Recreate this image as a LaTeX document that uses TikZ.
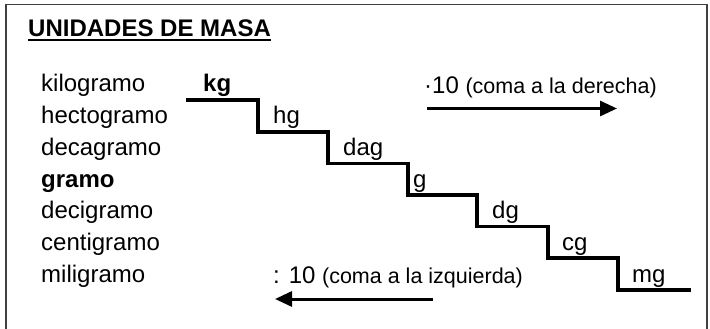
\documentclass[tikz,border=0pt]{standalone}
\usepackage{fontspec}
\setmainfont{Liberation Sans}
\usetikzlibrary{arrows.meta,calc}
\tikzset{
  lbl/.style={anchor=base west,inner sep=0pt,font=\fontsize{24}{28}\selectfont},
  note/.style={anchor=base west,inner sep=0pt,font=\fontsize{24}{28}\selectfont},
  stair/.style={line width=3.5pt,line join=miter,line cap=rect},
  conv/.style={line width=3pt,-{Triangle[length=17pt,width=15pt]}},
  frame/.style={line width=1.6pt,draw=black!75}
}
\begin{document}
\begin{tikzpicture}[x=1pt,y=-1pt]
\useasboundingbox (0,0) rectangle (710,329);
% frame (open at bottom)
\draw[frame] (6,329) -- (6,4.5) -- (707,4.5) -- (707,329);
% title
\node[anchor=base west,inner sep=0pt,font=\fontsize{24}{28}\bfseries] (title) at (28,37) {UNIDADES DE MASA};
\draw[line width=2pt] ($(title.base west)+(0,3.5)$) -- ($(title.base east)+(0,3.5)$);
% unit names
\node[lbl] (kilo)  at (41,92)    {kilogramo};
\node[lbl] (hecto) at (41,123.7) {hectogramo};
\node[lbl] (deca)  at (41,155.4) {decagramo};
\node[lbl,font=\fontsize{24}{28}\bfseries] (gram) at (41,187) {gramo};
\node[lbl] (deci)  at (41,218.8) {decigramo};
\node[lbl] (centi) at (41,250.5) {centigramo};
\node[lbl] (mili)  at (41,282.2) {miligramo};
% symbols
\node[lbl,font=\fontsize{24}{28}\bfseries] (kg) at (203,92) {kg};
\node[lbl] (hg)  at (273,123.7) {hg};
\node[lbl] (dag) at (343,155.4) {dag};
\node[lbl] (g)   at (413,187)   {g};
\node[lbl] (dg)  at (492,218.8) {dg};
\node[lbl] (cg)  at (562,250.5) {cg};
\node[lbl] (mg)  at (632,282.2) {mg};
% staircase
\coordinate (s0) at (188,100);
\coordinate (s1) at (258,100);
\coordinate (s2) at (258,132);
\coordinate (s3) at (328,132);
\coordinate (s4) at (328,163.5);
\coordinate (s5) at (408,163.5);
\coordinate (s6) at (408,195);
\coordinate (s7) at (477,195);
\coordinate (s8) at (477,226.5);
\coordinate (s9) at (548,226.5);
\coordinate (s10) at (548,258);
\coordinate (s11) at (618,258);
\coordinate (s12) at (618,290);
\coordinate (s13) at (689,290);
\draw[stair] (s0) -- (s1) -- (s2) -- (s3) -- (s4) -- (s5) -- (s6) -- (s7) -- (s8) -- (s9) -- (s10) -- (s11) -- (s12) -- (s13);
% conversion notes
\node[note] (mul) at (424,93) {·10 {\fontsize{21.5}{25}\selectfont(coma a la derecha)}};
\node[note] (div) at (273,283) {: 10 {\fontsize{21.5}{25}\selectfont(coma a la izquierda)}};
\coordinate (ma) at (427,108.5);
\coordinate (mb) at (617,108.5);
\coordinate (da) at (433,299);
\coordinate (db) at (275,299);
\draw[conv] (ma) -- (mb);
\draw[conv] (da) -- (db);
\end{tikzpicture}
\end{document}
